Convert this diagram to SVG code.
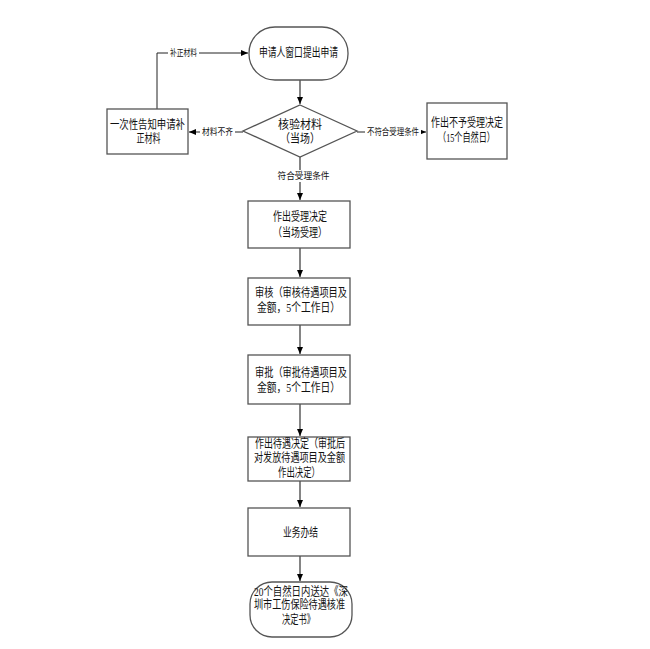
<svg xmlns="http://www.w3.org/2000/svg" width="650" height="649" viewBox="0 0 650 649">
<defs>
<marker id="ah" markerWidth="8" markerHeight="8" refX="7" refY="4" orient="auto" markerUnits="userSpaceOnUse">
<path d="M0,1 L7,4 L0,7 Z" fill="#000"/>
</marker>
<style>
.box{fill:#fff;stroke:#555;stroke-width:1.3}
.t{font-family:"Liberation Serif","Noto Sans CJK SC",serif;font-size:12px;fill:#111;text-anchor:middle;dominant-baseline:central}
.l{font-family:"Liberation Serif","Noto Sans CJK SC",serif;font-size:9px;fill:#111;text-anchor:middle;dominant-baseline:central}
.c{fill:none;stroke:#666;stroke-width:1.6}
.cb{fill:none;stroke:#222;stroke-width:1}
.lb{fill:#fff}
</style>
</defs>
<rect width="650" height="649" fill="#fff"/>
<g id="connectors">
<path class="c" d="M300,80 V104" marker-end="url(#ah)"/>
<path class="cb" d="M157,109 V53 H248" marker-end="url(#ah)"/>
<path class="cb" d="M243,132 H189" marker-end="url(#ah)"/>
<path class="cb" d="M357,132 H426" marker-end="url(#ah)"/>
<path class="c" d="M300,157 V200" marker-end="url(#ah)"/>
<path class="c" d="M300,248 V277" marker-end="url(#ah)"/>
<path class="c" d="M300,325 V354" marker-end="url(#ah)"/>
<path class="c" d="M300,404 V436" marker-end="url(#ah)"/>
<path class="c" d="M300,481 V507" marker-end="url(#ah)"/>
<path class="c" d="M300,556 V581" marker-end="url(#ah)"/>
<rect class="lb" x="168" y="47" width="31" height="12"/>
<text class="l" x="183.5" y="53" textLength="27" lengthAdjust="spacingAndGlyphs">补正材料</text>
<rect class="lb" x="200" y="126" width="35" height="12"/>
<text class="l" x="217.5" y="132" textLength="31" lengthAdjust="spacingAndGlyphs">材料不齐</text>
<rect class="lb" x="365" y="126" width="56" height="12"/>
<text class="l" x="393" y="132" textLength="52" lengthAdjust="spacingAndGlyphs">不符合受理条件</text>
<rect class="lb" x="275" y="170" width="57" height="12"/>
<text class="l" x="303.5" y="176" textLength="52" lengthAdjust="spacingAndGlyphs">符合受理条件</text>
</g>
<g id="start">
<rect class="box" x="249" y="27" width="99" height="53" rx="26" ry="26"/>
<text class="t" x="298.5" y="53" textLength="79" lengthAdjust="spacingAndGlyphs">申请人窗口提出申请</text>
</g>
<g id="check">
<polygon class="box" points="300,105 357,131 300,157 243,131"/>
<text class="t" x="300" y="125" textLength="44" lengthAdjust="spacingAndGlyphs">核验材料</text>
<text class="t" x="300" y="139" textLength="40" lengthAdjust="spacingAndGlyphs">（当场）</text>
</g>
<g id="notify">
<rect class="box" x="107" y="109" width="81" height="45"/>
<text class="t" x="147.5" y="125" textLength="75" lengthAdjust="spacingAndGlyphs">一次性告知申请补</text>
<text class="t" x="148.5" y="139" textLength="24" lengthAdjust="spacingAndGlyphs">正材料</text>
</g>
<g id="reject">
<rect class="box" x="427" y="103" width="80" height="56"/>
<text class="t" x="467" y="123" textLength="72" lengthAdjust="spacingAndGlyphs">作出不予受理决定</text>
<text class="t" x="466.5" y="138" textLength="57" lengthAdjust="spacingAndGlyphs">（15个自然日）</text>
</g>
<g id="accept">
<rect class="box" x="248" y="201" width="102" height="47"/>
<text class="t" x="300" y="217" textLength="54" lengthAdjust="spacingAndGlyphs">作出受理决定</text>
<text class="t" x="300" y="233" textLength="54" lengthAdjust="spacingAndGlyphs">（当场受理）</text>
</g>
<g id="review">
<rect class="box" x="248" y="278" width="102" height="47"/>
<text class="t" x="301" y="293" textLength="92" lengthAdjust="spacingAndGlyphs">审核（审核待遇项目及</text>
<text class="t" x="298.5" y="308" textLength="83" lengthAdjust="spacingAndGlyphs">金额，5个工作日）</text>
</g>
<g id="approve">
<rect class="box" x="248" y="355" width="102" height="49"/>
<text class="t" x="301" y="373" textLength="92" lengthAdjust="spacingAndGlyphs">审批（审批待遇项目及</text>
<text class="t" x="298.5" y="388" textLength="83" lengthAdjust="spacingAndGlyphs">金额，5个工作日）</text>
</g>
<g id="decide">
<rect class="box" x="248" y="437" width="102" height="44"/>
<text class="t" x="300" y="444" textLength="90" lengthAdjust="spacingAndGlyphs">作出待遇决定（审批后</text>
<text class="t" x="299.5" y="458" textLength="91" lengthAdjust="spacingAndGlyphs">对发放待遇项目及金额</text>
<text class="t" x="299" y="473" textLength="42" lengthAdjust="spacingAndGlyphs">作出决定）</text>
</g>
<g id="done">
<rect class="box" x="248" y="508" width="102" height="48"/>
<text class="t" x="300.5" y="533" textLength="35" lengthAdjust="spacingAndGlyphs">业务办结</text>
</g>
<g id="end">
<rect class="box" x="250" y="582" width="102" height="55" rx="22" ry="22"/>
<text class="t" x="301" y="592" textLength="94" lengthAdjust="spacingAndGlyphs">20个自然日内送达《深</text>
<text class="t" x="299.5" y="605" textLength="91" lengthAdjust="spacingAndGlyphs">圳市工伤保险待遇核准</text>
<text class="t" x="298.5" y="620" textLength="33" lengthAdjust="spacingAndGlyphs">决定书》</text>
</g>
</svg>
